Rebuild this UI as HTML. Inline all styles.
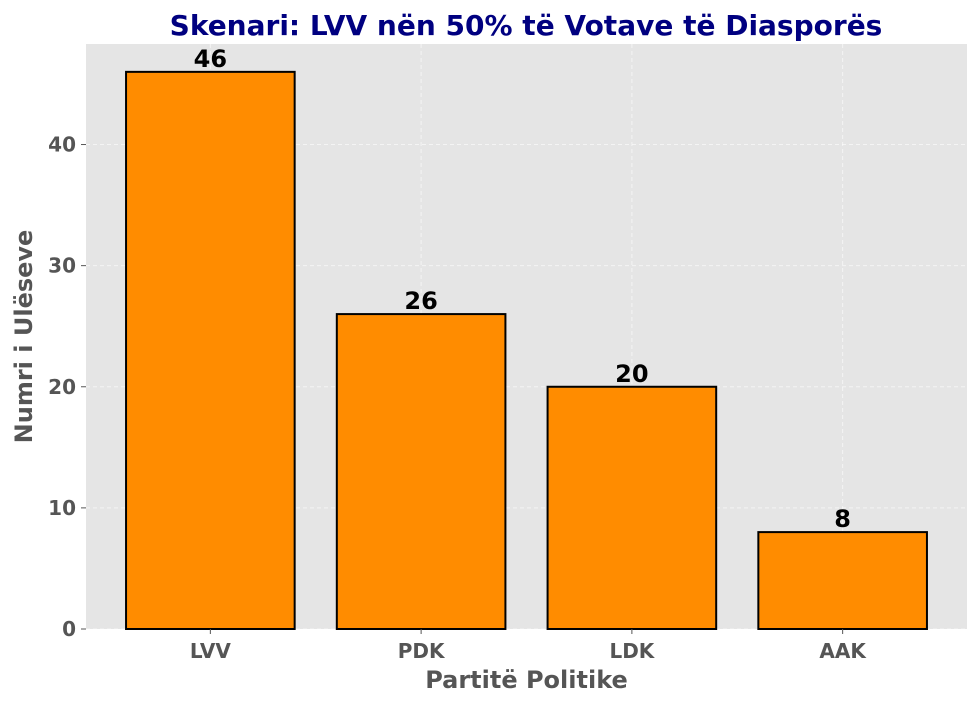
<!DOCTYPE html>
<html><head><meta charset="utf-8"><style>
html,body{margin:0;padding:0;background:#fff;}
svg{display:block;font-family:"DejaVu Sans","Liberation Sans",sans-serif;font-weight:bold;}
</style></head><body>
<svg id="chart" width="980" height="706" viewBox="0 0 980 706"></svg>
<script>
const categories = ["LVV", "PDK", "LDK", "AAK"];
const seats = [46, 26, 20, 8];
const yTicks = [0, 10, 20, 30, 40];

const NS = "http://www.w3.org/2000/svg";
const svg = document.getElementById("chart");
const L = 86, R = 967, T = 44, B = 629;
const n = categories.length;
const xMin = -0.59, xMax = n - 1 + 0.59;
const yMax = Math.max(...seats) * 1.05;
const xs = v => L + (v - xMin) / (xMax - xMin) * (R - L);
const ys = v => B - v / yMax * (B - T);
const barW = 0.8 * (xs(1) - xs(0));

function mk(tag, attrs, parent) {
  const e = document.createElementNS(NS, tag);
  for (const k in attrs) e.setAttribute(k, attrs[k]);
  (parent || svg).appendChild(e);
  return e;
}

const bg = mk("rect", {x: L, y: T, width: R - L, height: B - T, fill: "#e5e5e5"});



yTicks.forEach(t => {
  const g = mk("line", {x1: L, x2: R, y1: ys(t), y2: ys(t), stroke: "#fff", "stroke-width": 1, "stroke-dasharray": "4,3", opacity: 0.6});
  
  
  const tk = mk("line", {x1: L - 5, x2: L, y1: ys(t), y2: ys(t), stroke: "#555", "stroke-width": 1});
  
  
  const lb = mk("text", {x: L - 10, y: ys(t) + 7, "text-anchor": "end", "font-size": 20, fill: "#555"});
  lb.textContent = t;
  
  
});

categories.forEach((c, i) => {
  const g = mk("line", {x1: xs(i), x2: xs(i), y1: T, y2: B, stroke: "#fff", "stroke-width": 1, "stroke-dasharray": "4,3", opacity: 0.6});
  
  
});

categories.forEach((c, i) => {
  const v = seats[i];
  const bar = mk("rect", {x: xs(i) - barW / 2, y: ys(v), width: barW, height: B - ys(v), fill: "#ff8c00", stroke: "#000", "stroke-width": 2});
  
  
  const vl = mk("text", {x: xs(i), y: ys(v) - 5, "text-anchor": "middle", "font-size": 24, fill: "#000"});
  vl.textContent = v;
  
  
  const tk = mk("line", {x1: xs(i), x2: xs(i), y1: B, y2: B + 5, stroke: "#555", "stroke-width": 1});
  
  
  const xl = mk("text", {x: xs(i), y: B + 29, "text-anchor": "middle", "font-size": 20, fill: "#555"});
  xl.textContent = c;
  
  
});

const title = mk("text", {x: (L + R) / 2 - 0.5, y: 35, "text-anchor": "middle", "font-size": 28, fill: "#000080"});
title.textContent = "Skenari: LVV nën 50% të Votave të Diasporës";



const xt = mk("text", {x: (L + R) / 2, y: 688, "text-anchor": "middle", "font-size": 24, fill: "#555"});
xt.textContent = "Partitë Politike";



const yt = mk("text", {x: 0, y: 0, "text-anchor": "middle", "font-size": 24, fill: "#555", transform: "translate(32," + ((T + B) / 2) + ") rotate(-90)"});
yt.textContent = "Numri i Ulëseve";


</script>
</body></html>
